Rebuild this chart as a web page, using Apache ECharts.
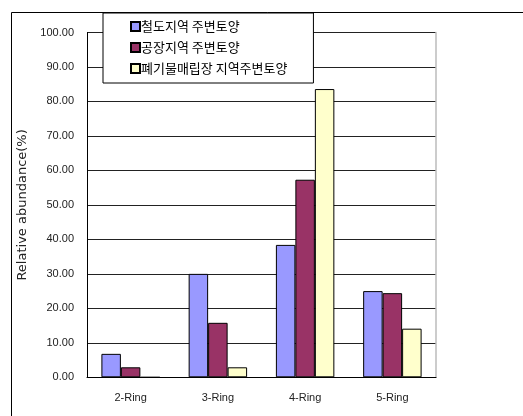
<!DOCTYPE html>
<html>
<head>
<meta charset="utf-8">
<script src="https://cdn.jsdelivr.net/npm/echarts@6/dist/echarts.min.js"></script>
<style>
html,body{margin:0;padding:0;background:#fff;}
#c{width:523px;height:416px;}
</style>
</head>
<body>
<div id="c"></div>
<script>
var categories = ['2-Ring', '3-Ring', '4-Ring', '5-Ring'];
var seriesNames = ['철도지역 주변토양', '공장지역 주변토양', '폐기물매립장 지역주변토양'];
var railway = [6.8, 30.0, 38.4, 25.0];
var factory = [2.9, 15.8, 57.3, 24.4];
var landfill = [0, 2.9, 83.6, 14.1];
var colors = ['#9999FF', '#993366', '#FFFFCC'];
var yTitle = 'Relative abundance(%)';

var chart = echarts.init(document.getElementById('c'), null, {renderer: 'canvas'});
function mk(name, data, color) {
  return {
    name: name, type: 'bar', data: data,
    barGap: '0%', barCategoryGap: '33%',
    itemStyle: {color: color, borderColor: '#000', borderWidth: 1},
    emphasis: {disabled: true}
  };
}
chart.setOption({
  animation: false,
  backgroundColor: '#fff',
  graphic: [{
    type: 'rect', left: 9, top: 10, silent: true,
    shape: {width: 600, height: 500},
    style: {fill: 'none', stroke: '#000', lineWidth: 1}
  }],
  grid: {left: 87, right: 87, top: 32.5, bottom: 38.7},
  legend: {
    orient: 'vertical', left: 103, top: 13,
    padding: [7, 26, 8, 27],
    itemGap: 8, itemWidth: 9, itemHeight: 9, icon: 'rect',
    backgroundColor: '#fff', borderColor: '#000', borderWidth: 1,
    textStyle: {fontFamily: 'Noto Sans CJK KR', fontSize: 13, color: '#000', padding: [0, 0, 0, -4]},
    data: seriesNames
  },
  xAxis: {
    type: 'category', data: categories,
    axisLine: {lineStyle: {color: '#000', width: 1}},
    axisTick: {inside: true, length: 5, lineStyle: {color: '#000'}},
    axisLabel: {fontFamily: 'Liberation Sans', fontSize: 11, color: '#222', margin: 15}
  },
  yAxis: [{
    type: 'value', min: 0, max: 100, interval: 10,
    name: yTitle, nameLocation: 'middle', nameGap: 40,
    nameTextStyle: {fontFamily: 'DejaVu Sans', fontSize: 13, color: '#222'},
    axisLine: {show: true, lineStyle: {color: '#000', width: 1}},
    axisTick: {show: false},
    axisLabel: {fontFamily: 'Liberation Sans', fontSize: 11, color: '#222', margin: 13,
      formatter: function (v) { return v.toFixed(2); }},
    splitLine: {lineStyle: {color: '#222', width: 1}}
  }, {
    type: 'value', min: 0, max: 100, interval: 10, position: 'right',
    axisLine: {show: true, lineStyle: {color: '#bbb', width: 1.5}},
    axisTick: {show: false}, axisLabel: {show: false}, splitLine: {show: false}
  }],
  series: [mk(seriesNames[0], railway, colors[0]), mk(seriesNames[1], factory, colors[1]), mk(seriesNames[2], landfill, colors[2])]
});
</script>
</body>
</html>
